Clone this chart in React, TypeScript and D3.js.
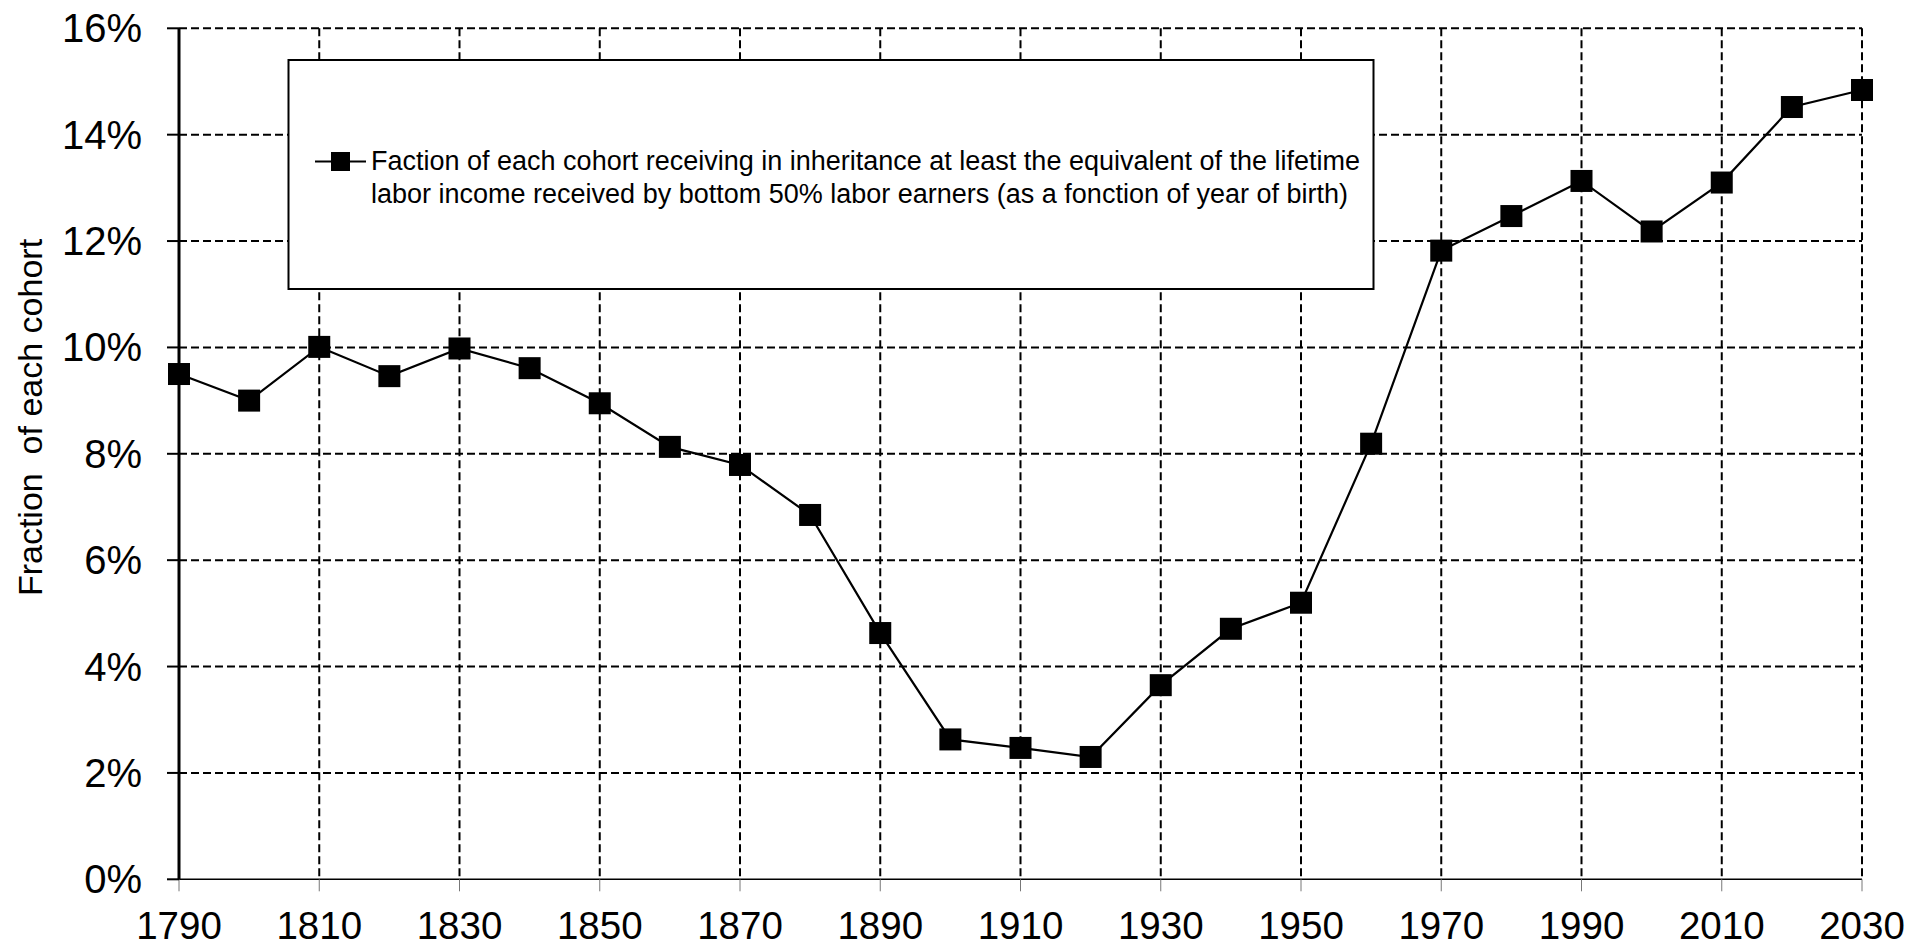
import React from "react";
import * as d3 from "d3";

const years = [1790, 1800, 1810, 1820, 1830, 1840, 1850, 1860, 1870, 1880, 1890, 1900, 1910, 1920, 1930, 1940, 1950, 1960, 1970, 1980, 1990, 2000, 2010, 2020, 2030];
const values = [9.5, 9.0, 10.01, 9.46, 9.98, 9.61, 8.95, 8.13, 7.79, 6.85, 4.63, 2.63, 2.47, 2.3, 3.65, 4.71, 5.2, 8.19, 11.82, 12.47, 13.13, 12.18, 13.1, 14.52, 14.84];
const xTicks = [1790, 1810, 1830, 1850, 1870, 1890, 1910, 1930, 1950, 1970, 1990, 2010, 2030];
const yTicks = [0, 2, 4, 6, 8, 10, 12, 14, 16];
const yLabel = "Fraction  of each cohort";
const legendLines = [
  "Faction of each cohort receiving in inheritance at least the equivalent of the lifetime",
  "labor income received by bottom 50% labor earners (as a fonction of year of birth)",
];

const W = 1910;
const H = 946;
const FONT = "'Liberation Sans', Arial, sans-serif";

export default function App() {
  const x = d3.scaleLinear().domain([1790, 2030]).range([179, 1862]);
  const y = d3.scaleLinear().domain([0, 16]).range([879.3, 28.3]);
  const line = d3
    .line<number>()
    .x((_, i) => x(years[i]))
    .y((d) => y(d));
  const M = 22;
  const dash = "8,4";

  return (
    <svg
      width={W}
      height={H}
      style={{ position: "absolute", left: 0, top: 0, display: "block", background: "#fff" }}
      fontFamily={FONT}
    >
      <rect x={0} y={0} width={W} height={H} fill="#fff" />
      {/* horizontal grid */}
      {yTicks
        .filter((t) => t > 0)
        .map((t) => (
          <line key={"h" + t} x1={x(1790)} x2={x(2030)} y1={y(t)} y2={y(t)} stroke="#000" strokeWidth={2} strokeDasharray={dash} />
        ))}
      {/* vertical grid */}
      {xTicks
        .filter((t) => t > 1790)
        .map((t) => (
          <line key={"v" + t} x1={x(t)} x2={x(t)} y1={y(16)} y2={y(0)} stroke="#000" strokeWidth={2} strokeDasharray={dash} />
        ))}
      {/* x axis */}
      <line x1={x(1790)} x2={x(2030)} y1={y(0)} y2={y(0)} stroke="#000" strokeWidth={1.5} />
      {xTicks.map((t) => (
        <g key={"xt" + t}>
          <line x1={x(t)} x2={x(t)} y1={y(0)} y2={y(0) + 12} stroke="#777" strokeWidth={1} />
          <text x={x(t)} y={939} textAnchor="middle" fontSize={38.5} fill="#000">
            {t}
          </text>
        </g>
      ))}
      {/* y axis */}
      <line x1={x(1790)} x2={x(1790)} y1={y(16)} y2={y(0)} stroke="#000" strokeWidth={3} />
      {yTicks.map((t) => (
        <g key={"yt" + t}>
          <line x1={x(1790) - 12} x2={x(1790)} y1={y(t)} y2={y(t)} stroke="#000" strokeWidth={2} />
          <text x={142} y={y(t) + 14} textAnchor="end" fontSize={40} fill="#000">
            {t + "%"}
          </text>
        </g>
      ))}
      <text transform="translate(41.5,417.5) rotate(-90)" textAnchor="middle" fontSize={34} fill="#000" style={{ whiteSpace: "pre" }}>
        {yLabel}
      </text>
      {/* legend */}
      <rect x={288.5} y={60} width={1085} height={229} fill="#fff" stroke="#000" strokeWidth={2} />
      <line x1={315} x2={366} y1={161.5} y2={161.5} stroke="#000" strokeWidth={2} />
      <rect x={340.5 - 9.5} y={161.5 - 9.5} width={19} height={19} fill="#000" />
      {legendLines.map((l, i) => (
        <text key={"lg" + i} x={371} y={169.5 + i * 33.5} fontSize={27} fill="#000">
          {l}
        </text>
      ))}
      {/* series */}
      <path d={line(values) || ""} fill="none" stroke="#000" strokeWidth={2.2} />
      {values.map((v, i) => (
        <rect key={"m" + i} x={x(years[i]) - M / 2} y={y(v) - M / 2} width={M} height={M} fill="#000" />
      ))}
    </svg>
  );
}
